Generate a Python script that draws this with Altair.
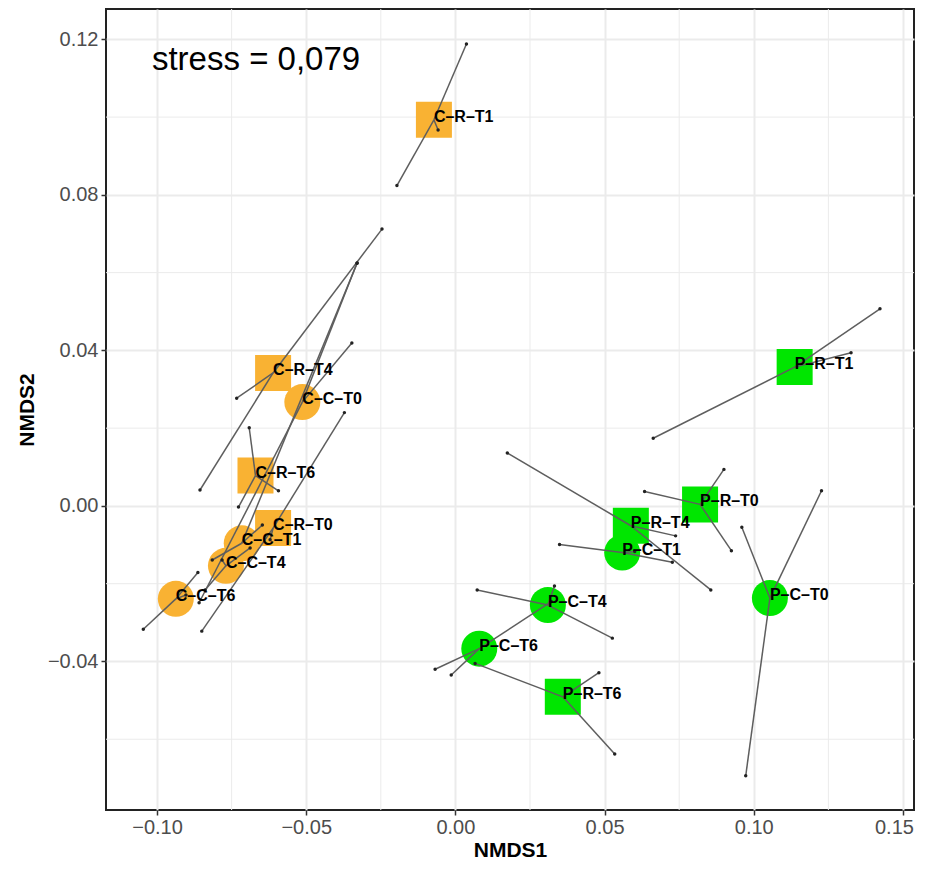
import altair as alt
import pandas as pd

# ---- centroids (group means) ----
group_names = ["C–C–T0", "C–C–T1", "C–C–T4", "C–C–T6", "C–R–T0", "C–R–T1", "C–R–T4", "C–R–T6",
               "P–C–T0", "P–C–T1", "P–C–T4", "P–C–T6", "P–R–T0", "P–R–T1", "P–R–T4", "P–R–T6"]
group_site = ["C"] * 8 + ["P"] * 8
group_kind = ["C", "C", "C", "C", "R", "R", "R", "R"] * 2
cent_x = [-0.0513, -0.0716, -0.0769, -0.0937, -0.0611, -0.0072, -0.0611, -0.0670,
          0.1054, 0.0559, 0.0310, 0.0080, 0.0820, 0.1137, 0.0588, 0.0360]
cent_y = [0.0267, -0.0096, -0.0154, -0.0239, -0.0057, 0.0993, 0.0342, 0.0078,
          -0.0237, -0.0120, -0.0255, -0.0367, 0.0004, 0.0357, -0.0051, -0.0491]

# ---- sample scores (3 per group) ----
sample_group = [g for g in group_names for _ in range(3)]
sample_x = [-0.0330, -0.0347, -0.0859,
            -0.0329, -0.0647, -0.0815,
            -0.0688, -0.0839, -0.0782,
            -0.1046, -0.0863, -0.0903,
            -0.0372, -0.0850, -0.0621,
            0.0037, -0.0196, -0.0058,
            -0.0246, -0.0733, -0.0856,
            -0.0691, -0.0593, -0.0727,
            0.1227, 0.0960, 0.0973,
            0.0349, 0.0727, 0.0601,
            0.0073, 0.0526, 0.0332,
            -0.0068, -0.0014, 0.0321,
            0.0900, 0.0634, 0.0925,
            0.1423, 0.0663, 0.1326,
            0.0174, 0.0738, 0.0856,
            0.0481, 0.0534, 0.0066]
sample_y = [0.0624, 0.0419, -0.0249,
            0.0625, -0.0049, -0.0139,
            -0.0108, -0.0216, -0.0139,
            -0.0317, -0.0171, -0.0229,
            0.0240, -0.0322, -0.0087,
            0.1188, 0.0824, 0.0967,
            0.0712, 0.0277, 0.0041,
            0.0201, 0.0039, -0.0003,
            0.0039, -0.0055, -0.0694,
            -0.0099, -0.0145, -0.0117,
            -0.0216, -0.0340, -0.0206,
            -0.0420, -0.0435, -0.0246,
            0.0094, 0.0037, -0.0115,
            0.0507, 0.0174, 0.0394,
            0.0136, -0.0077, -0.0216,
            -0.0429, -0.0638, -0.0405]

x_ticks = [-0.10, -0.05, 0.00, 0.05, 0.10, 0.15]
y_ticks = [-0.04, 0.00, 0.04, 0.08, 0.12]
x_minor = [-0.075, -0.025, 0.025, 0.075, 0.125]
y_minor = [-0.06, -0.02, 0.02, 0.06, 0.10]
stress_text = ["stress = 0,079"]
stress_pos_x = [-0.1017]
stress_pos_y = [0.1147]

cent = pd.DataFrame({"group": group_names, "site": group_site, "kind": group_kind,
                     "cx": cent_x, "cy": cent_y})
samp = pd.DataFrame({"group": sample_group, "sx": sample_x, "sy": sample_y})
samp = samp.merge(cent, on="group")

X_DOM = [-0.1171, 0.1537]
Y_DOM = [-0.0782, 0.1278]
FONT = "Liberation Sans"

xs = alt.Scale(domain=X_DOM, nice=False, zero=False)
ys = alt.Scale(domain=Y_DOM, nice=False, zero=False)

xaxis = alt.Axis(values=x_ticks, format=".2f", title="NMDS1", grid=True,
                 labelOffset={"condition": {"test": "datum.value > 0.14", "value": -9}, "value": 0})
yaxis = alt.Axis(values=y_ticks, format=".2f", title="NMDS2", grid=True)

minor_v = alt.Chart(pd.DataFrame({"v": x_minor})).mark_rule(
    color="#EBEBEB", strokeWidth=1).encode(x=alt.X("v:Q", scale=xs, axis=xaxis))
minor_h = alt.Chart(pd.DataFrame({"v": y_minor})).mark_rule(
    color="#EBEBEB", strokeWidth=1).encode(y=alt.Y("v:Q", scale=ys, axis=yaxis))

shapes = alt.Chart(cent).mark_point(filled=True, opacity=1, size=1296, strokeWidth=0).encode(
    x=alt.X("cx:Q", scale=xs, axis=xaxis),
    y=alt.Y("cy:Q", scale=ys, axis=yaxis),
    color=alt.Color("site:N", scale=alt.Scale(domain=["C", "P"], range=["#F9B233", "#00E600"]), legend=None),
    shape=alt.Shape("kind:N", scale=alt.Scale(domain=["C", "R"], range=["circle", "square"]), legend=None),
)

spokes = alt.Chart(samp).mark_rule(color="#5E5E5E", strokeWidth=1.5).encode(
    x=alt.X("cx:Q", scale=xs), y=alt.Y("cy:Q", scale=ys),
    x2="sx:Q", y2="sy:Q")

dots = alt.Chart(samp).mark_circle(color="#222222", size=12, opacity=1).encode(
    x=alt.X("sx:Q", scale=xs), y=alt.Y("sy:Q", scale=ys))

labels = alt.Chart(cent).mark_text(align="left", baseline="middle", dy=-3, font=FONT,
                                   fontSize=16, fontWeight="bold", color="black").encode(
    x=alt.X("cx:Q", scale=xs), y=alt.Y("cy:Q", scale=ys), text="group:N")

stress = alt.Chart(pd.DataFrame({"x": stress_pos_x, "y": stress_pos_y, "t": stress_text})).mark_text(
    align="left", baseline="middle", font=FONT, fontSize=33, color="black").encode(
    x=alt.X("x:Q", scale=xs), y=alt.Y("y:Q", scale=ys), text="t:N")

chart = alt.layer(minor_v, minor_h, shapes, spokes, dots, labels, stress).properties(
    width=808, height=801,
    autosize=alt.AutoSizeParams(type="none"),
    padding={"left": 98, "top": 1, "right": 4, "bottom": 52},
).configure_view(
    stroke="#222222", strokeWidth=2
).configure_axis(
    domain=False, gridColor="#EBEBEB", gridWidth=2,
    tickColor="#333333", tickSize=5, tickWidth=1.5,
    labelFont=FONT, labelFontSize=20, labelColor="#4D4D4D", labelPadding=3,
    titleFont=FONT, titleFontSize=21, titleFontWeight="bold", titleColor="black",
).configure_axisX(titlePadding=2, labelPadding=2).configure_axisY(titlePadding=10)

chart.save("out.html", embed_options={"renderer": "svg", "actions": False})
